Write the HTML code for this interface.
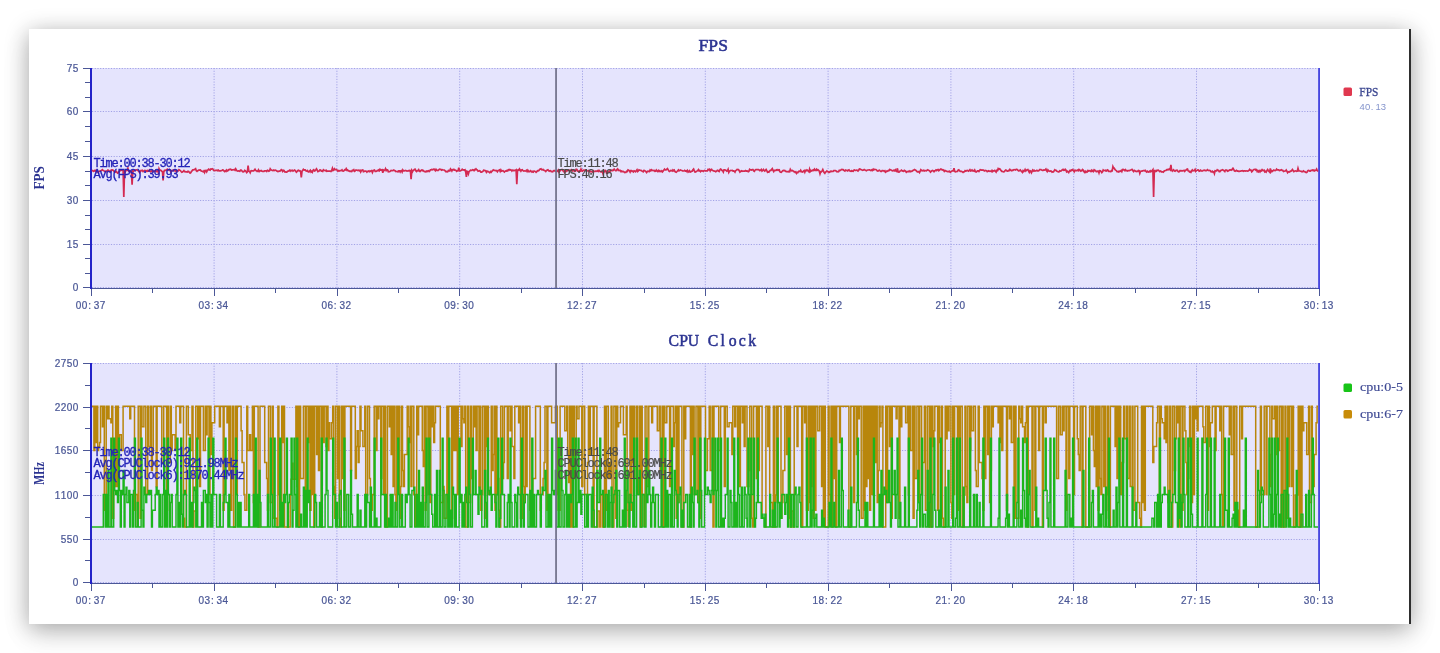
<!DOCTYPE html><html><head><meta charset="utf-8"><title>FPS / CPU Clock</title><style>
html,body{margin:0;padding:0;background:#fff;width:1440px;height:653px;overflow:hidden}
#panel{position:absolute;left:29px;top:29px;width:1382px;height:595px;background:#fff;box-shadow:0 4px 22px rgba(0,0,0,0.32),0 12px 30px rgba(0,0,0,0.07)}
#edge{position:absolute;left:1409px;top:29px;width:2px;height:595px;background:#2e2e2e}
svg{position:absolute;left:0;top:0}
.ax{font-family:"Liberation Sans",sans-serif;font-size:11.4px;fill:#4a5796;stroke:#4a5796;stroke-width:0.25}
.ttl{font-family:"Liberation Serif",serif;fill:#2b3391;stroke:#2b3391;stroke-width:0.55}
.ttlb{font-family:"Liberation Serif",serif;font-weight:bold;fill:#2b3391}
.ov{font-family:"Liberation Mono",monospace;font-size:12px;fill:#2323b8;stroke:#2323b8;stroke-width:0.3}
.ovg{font-family:"Liberation Mono",monospace;font-size:12px;fill:#4a4a4a;stroke:#4a4a4a;stroke-width:0.2}

</style></head><body><div id="panel"></div><div id="edge"></div>
<svg width="1440" height="653" viewBox="0 0 1440 653">
<rect x="92" y="68" width="1226" height="220" fill="#e5e4fd"/><line x1="92" y1="287.5" x2="1318" y2="287.5" stroke="#a3a3e6" stroke-width="1" stroke-dasharray="1.2 1.5"/><line x1="92" y1="244.5" x2="1318" y2="244.5" stroke="#a3a3e6" stroke-width="1" stroke-dasharray="1.2 1.5"/><line x1="92" y1="200.5" x2="1318" y2="200.5" stroke="#a3a3e6" stroke-width="1" stroke-dasharray="1.2 1.5"/><line x1="92" y1="156.5" x2="1318" y2="156.5" stroke="#a3a3e6" stroke-width="1" stroke-dasharray="1.2 1.5"/><line x1="92" y1="111.5" x2="1318" y2="111.5" stroke="#a3a3e6" stroke-width="1" stroke-dasharray="1.2 1.5"/><line x1="92" y1="68.5" x2="1318" y2="68.5" stroke="#a3a3e6" stroke-width="1" stroke-dasharray="1.2 1.5"/><line x1="214.10" y1="68" x2="214.10" y2="288" stroke="#a3a3e6" stroke-width="1" stroke-dasharray="1.2 1.5"/><line x1="336.90" y1="68" x2="336.90" y2="288" stroke="#a3a3e6" stroke-width="1" stroke-dasharray="1.2 1.5"/><line x1="459.70" y1="68" x2="459.70" y2="288" stroke="#a3a3e6" stroke-width="1" stroke-dasharray="1.2 1.5"/><line x1="582.50" y1="68" x2="582.50" y2="288" stroke="#a3a3e6" stroke-width="1" stroke-dasharray="1.2 1.5"/><line x1="705.30" y1="68" x2="705.30" y2="288" stroke="#a3a3e6" stroke-width="1" stroke-dasharray="1.2 1.5"/><line x1="828.10" y1="68" x2="828.10" y2="288" stroke="#a3a3e6" stroke-width="1" stroke-dasharray="1.2 1.5"/><line x1="950.90" y1="68" x2="950.90" y2="288" stroke="#a3a3e6" stroke-width="1" stroke-dasharray="1.2 1.5"/><line x1="1073.70" y1="68" x2="1073.70" y2="288" stroke="#a3a3e6" stroke-width="1" stroke-dasharray="1.2 1.5"/><line x1="1196.50" y1="68" x2="1196.50" y2="288" stroke="#a3a3e6" stroke-width="1" stroke-dasharray="1.2 1.5"/><line x1="90" y1="288.5" x2="1320" y2="288.5" stroke="#4b5797" stroke-width="1"/><line x1="83" y1="287.5" x2="90" y2="287.5" stroke="#4b5797" stroke-width="1"/><line x1="85" y1="273.5" x2="90" y2="273.5" stroke="#4b5797" stroke-width="1"/><line x1="85" y1="258.5" x2="90" y2="258.5" stroke="#4b5797" stroke-width="1"/><text transform="scale(0.880 1)" x="85.80" y="291.40" text-anchor="middle" class="ax">0</text><line x1="83" y1="244.5" x2="90" y2="244.5" stroke="#4b5797" stroke-width="1"/><line x1="85" y1="229.5" x2="90" y2="229.5" stroke="#4b5797" stroke-width="1"/><line x1="85" y1="215.5" x2="90" y2="215.5" stroke="#4b5797" stroke-width="1"/><text transform="scale(0.880 1)" x="78.98 85.80" y="248.40" text-anchor="middle" class="ax">15</text><line x1="83" y1="200.5" x2="90" y2="200.5" stroke="#4b5797" stroke-width="1"/><line x1="85" y1="185.5" x2="90" y2="185.5" stroke="#4b5797" stroke-width="1"/><line x1="85" y1="171.5" x2="90" y2="171.5" stroke="#4b5797" stroke-width="1"/><text transform="scale(0.880 1)" x="78.98 85.80" y="204.40" text-anchor="middle" class="ax">30</text><line x1="83" y1="156.5" x2="90" y2="156.5" stroke="#4b5797" stroke-width="1"/><line x1="85" y1="141.5" x2="90" y2="141.5" stroke="#4b5797" stroke-width="1"/><line x1="85" y1="126.5" x2="90" y2="126.5" stroke="#4b5797" stroke-width="1"/><text transform="scale(0.880 1)" x="78.98 85.80" y="160.40" text-anchor="middle" class="ax">45</text><line x1="83" y1="111.5" x2="90" y2="111.5" stroke="#4b5797" stroke-width="1"/><line x1="85" y1="97.5" x2="90" y2="97.5" stroke="#4b5797" stroke-width="1"/><line x1="85" y1="82.5" x2="90" y2="82.5" stroke="#4b5797" stroke-width="1"/><text transform="scale(0.880 1)" x="78.98 85.80" y="115.40" text-anchor="middle" class="ax">60</text><line x1="83" y1="68.5" x2="90" y2="68.5" stroke="#4b5797" stroke-width="1"/><text transform="scale(0.880 1)" x="78.98 85.80" y="72.40" text-anchor="middle" class="ax">75</text><line x1="91.5" y1="289" x2="91.5" y2="296" stroke="#4b5797" stroke-width="1"/><line x1="152.5" y1="289" x2="152.5" y2="293" stroke="#4b5797" stroke-width="1"/><text transform="scale(0.880 1)" x="89.32 96.14 101.82 109.77 116.59" y="308.90" text-anchor="middle" class="ax">00:37</text><line x1="214.5" y1="289" x2="214.5" y2="296" stroke="#4b5797" stroke-width="1"/><line x1="275.5" y1="289" x2="275.5" y2="293" stroke="#4b5797" stroke-width="1"/><text transform="scale(0.880 1)" x="228.86 235.68 241.36 249.32 256.14" y="308.90" text-anchor="middle" class="ax">03:34</text><line x1="337.5" y1="289" x2="337.5" y2="296" stroke="#4b5797" stroke-width="1"/><line x1="398.5" y1="289" x2="398.5" y2="293" stroke="#4b5797" stroke-width="1"/><text transform="scale(0.880 1)" x="368.41 375.23 380.91 388.86 395.68" y="308.90" text-anchor="middle" class="ax">06:32</text><line x1="459.5" y1="289" x2="459.5" y2="296" stroke="#4b5797" stroke-width="1"/><line x1="521.5" y1="289" x2="521.5" y2="293" stroke="#4b5797" stroke-width="1"/><text transform="scale(0.880 1)" x="507.95 514.77 520.45 528.41 535.23" y="308.90" text-anchor="middle" class="ax">09:30</text><line x1="582.5" y1="289" x2="582.5" y2="296" stroke="#4b5797" stroke-width="1"/><line x1="644.5" y1="289" x2="644.5" y2="293" stroke="#4b5797" stroke-width="1"/><text transform="scale(0.880 1)" x="647.50 654.32 660.00 667.95 674.77" y="308.90" text-anchor="middle" class="ax">12:27</text><line x1="705.5" y1="289" x2="705.5" y2="296" stroke="#4b5797" stroke-width="1"/><line x1="766.5" y1="289" x2="766.5" y2="293" stroke="#4b5797" stroke-width="1"/><text transform="scale(0.880 1)" x="787.05 793.86 799.55 807.50 814.32" y="308.90" text-anchor="middle" class="ax">15:25</text><line x1="828.5" y1="289" x2="828.5" y2="296" stroke="#4b5797" stroke-width="1"/><line x1="889.5" y1="289" x2="889.5" y2="293" stroke="#4b5797" stroke-width="1"/><text transform="scale(0.880 1)" x="926.59 933.41 939.09 947.05 953.86" y="308.90" text-anchor="middle" class="ax">18:22</text><line x1="951.5" y1="289" x2="951.5" y2="296" stroke="#4b5797" stroke-width="1"/><line x1="1012.5" y1="289" x2="1012.5" y2="293" stroke="#4b5797" stroke-width="1"/><text transform="scale(0.880 1)" x="1066.14 1072.95 1078.64 1086.59 1093.41" y="308.90" text-anchor="middle" class="ax">21:20</text><line x1="1073.5" y1="289" x2="1073.5" y2="296" stroke="#4b5797" stroke-width="1"/><line x1="1135.5" y1="289" x2="1135.5" y2="293" stroke="#4b5797" stroke-width="1"/><text transform="scale(0.880 1)" x="1205.68 1212.50 1218.18 1226.14 1232.95" y="308.90" text-anchor="middle" class="ax">24:18</text><line x1="1196.5" y1="289" x2="1196.5" y2="296" stroke="#4b5797" stroke-width="1"/><line x1="1258.5" y1="289" x2="1258.5" y2="293" stroke="#4b5797" stroke-width="1"/><text transform="scale(0.880 1)" x="1345.23 1352.05 1357.73 1365.68 1372.50" y="308.90" text-anchor="middle" class="ax">27:15</text><line x1="1319.5" y1="289" x2="1319.5" y2="296" stroke="#4b5797" stroke-width="1"/><text transform="scale(0.880 1)" x="1484.77 1491.59 1497.27 1505.23 1512.05" y="308.90" text-anchor="middle" class="ax">30:13</text><rect x="90" y="68" width="2" height="221" fill="#2323c8"/><rect x="1318.2" y="68" width="1.7" height="221" fill="#3434dc"/>
<polyline points="92.0,170.9 92.7,170.5 93.4,171.3 94.1,171.2 94.8,170.3 95.5,170.4 96.1,171.6 96.8,170.7 97.5,171.8 98.2,172.5 98.9,171.5 99.6,171.2 100.3,170.8 101.0,170.6 101.7,170.3 102.4,169.7 103.1,170.4 103.7,170.7 104.4,171.0 105.1,171.5 105.8,171.7 106.5,171.1 107.2,170.9 107.9,170.0 108.6,170.4 109.3,171.1 110.0,171.9 110.6,170.9 111.3,169.9 112.0,170.1 112.7,170.0 113.4,170.7 114.1,171.4 114.8,171.5 115.5,172.1 116.2,171.3 116.9,172.3 117.6,173.2 118.2,172.9 118.9,171.3 119.6,170.9 120.3,170.6 121.0,170.3 121.7,170.2 122.4,169.8 123.1,169.9 123.8,197.1 124.5,171.4 125.2,172.0 125.8,170.4 126.5,170.4 127.2,170.1 127.9,168.3 128.6,171.1 129.3,171.1 130.0,170.7 130.7,171.3 131.4,171.9 132.1,184.8 132.8,170.9 133.4,171.4 134.1,170.7 134.8,170.0 135.5,170.4 136.2,169.9 136.9,169.8 137.6,170.4 138.3,170.8 139.0,171.8 139.7,172.6 140.3,171.2 141.0,170.5 141.7,170.8 142.4,170.4 143.1,171.6 143.8,171.1 144.5,170.4 145.2,170.7 145.9,170.7 146.6,171.3 147.3,170.6 147.9,171.3 148.6,171.0 149.3,170.1 150.0,171.3 150.7,171.8 151.4,171.3 152.1,170.4 152.8,171.6 153.5,171.2 154.2,171.4 154.9,171.1 155.5,170.6 156.2,171.6 156.9,171.0 157.6,170.8 158.3,172.6 159.0,168.7 159.7,170.4 160.4,170.1 161.1,170.4 161.8,171.3 162.5,171.6 163.1,180.4 163.8,171.8 164.5,170.4 165.2,170.3 165.9,170.3 166.6,169.8 167.3,169.3 168.0,170.4 168.7,169.9 169.4,169.4 170.0,170.2 170.7,171.7 171.4,170.7 172.1,170.8 172.8,170.2 173.5,170.5 174.2,170.0 174.9,170.8 175.6,170.2 176.3,171.7 177.0,170.6 177.6,170.8 178.3,170.8 179.0,169.7 179.7,170.1 180.4,170.6 181.1,171.5 181.8,172.2 182.5,172.0 183.2,171.4 183.9,170.6 184.6,171.7 185.2,171.7 185.9,171.9 186.6,171.9 187.3,172.1 188.0,171.3 188.7,171.5 189.4,172.4 190.1,173.1 190.8,172.6 191.5,171.3 192.2,170.6 192.8,169.8 193.5,169.8 194.2,169.7 194.9,169.3 195.6,168.7 196.3,170.8 197.0,171.4 197.7,170.7 198.4,170.4 199.1,170.0 199.7,170.1 200.4,169.9 201.1,171.0 201.8,171.1 202.5,171.5 203.2,171.7 203.9,170.9 204.6,172.5 205.3,170.7 206.0,170.4 206.7,171.8 207.3,170.7 208.0,169.9 208.7,169.1 209.4,169.7 210.1,170.1 210.8,169.0 211.5,169.2 212.2,168.8 212.9,169.1 213.6,170.4 214.3,170.4 214.9,170.6 215.6,170.4 216.3,170.3 217.0,170.2 217.7,170.7 218.4,170.2 219.1,170.9 219.8,170.8 220.5,170.8 221.2,170.7 221.9,170.5 222.5,169.9 223.2,170.0 223.9,171.0 224.6,171.5 225.3,170.7 226.0,171.4 226.7,170.1 227.4,170.9 228.1,170.5 228.8,169.7 229.5,169.7 230.1,169.1 230.8,169.3 231.5,170.0 232.2,169.9 232.9,169.9 233.6,169.7 234.3,169.4 235.0,170.2 235.7,168.8 236.4,170.2 237.0,170.7 237.7,171.1 238.4,170.8 239.1,171.1 239.8,171.3 240.5,170.2 241.2,170.2 241.9,170.8 242.6,171.7 243.3,171.9 244.0,171.6 244.6,170.4 245.3,170.7 246.0,171.5 246.7,172.6 247.4,171.8 248.1,165.5 248.8,171.2 249.5,171.4 250.2,172.7 250.9,170.9 251.6,170.6 252.2,170.9 252.9,170.8 253.6,170.8 254.3,170.3 255.0,169.3 255.7,170.5 256.4,170.7 257.1,171.4 257.8,171.0 258.5,169.9 259.2,171.5 259.8,170.9 260.5,170.9 261.2,170.6 261.9,171.2 262.6,171.3 263.3,171.3 264.0,171.3 264.7,170.8 265.4,170.8 266.1,170.9 266.7,171.4 267.4,170.3 268.1,170.6 268.8,171.2 269.5,170.9 270.2,168.8 270.9,169.8 271.6,170.0 272.3,170.5 273.0,170.6 273.7,170.1 274.3,170.5 275.0,170.3 275.7,170.1 276.4,170.8 277.1,171.1 277.8,171.5 278.5,171.4 279.2,170.9 279.9,171.2 280.6,170.5 281.3,169.6 281.9,170.0 282.6,171.4 283.3,170.3 284.0,170.5 284.7,171.9 285.4,171.9 286.1,172.2 286.8,172.1 287.5,171.3 288.2,171.2 288.9,170.9 289.5,170.3 290.2,171.1 290.9,170.3 291.6,170.8 292.3,170.3 293.0,171.1 293.7,170.6 294.4,170.1 295.1,170.5 295.8,171.5 296.4,172.2 297.1,171.4 297.8,170.5 298.5,170.3 299.2,171.1 299.9,170.8 300.6,171.2 301.3,177.5 302.0,171.3 302.7,170.5 303.4,169.3 304.0,169.8 304.7,170.1 305.4,169.9 306.1,170.9 306.8,171.1 307.5,170.6 308.2,171.9 308.9,172.1 309.6,170.9 310.3,170.2 311.0,172.0 311.6,171.4 312.3,172.3 313.0,170.3 313.7,169.8 314.4,171.0 315.1,170.7 315.8,169.8 316.5,168.8 317.2,170.1 317.9,171.6 318.6,171.2 319.2,171.1 319.9,169.9 320.6,170.1 321.3,171.1 322.0,171.1 322.7,171.4 323.4,169.7 324.1,170.2 324.8,170.5 325.5,170.7 326.1,170.2 326.8,171.3 327.5,171.2 328.2,171.1 328.9,171.1 329.6,171.1 330.3,171.2 331.0,171.5 331.7,170.6 332.4,168.3 333.1,170.5 333.7,170.1 334.4,168.8 335.1,169.6 335.8,169.7 336.5,169.5 337.2,170.3 337.9,171.3 338.6,170.6 339.3,171.0 340.0,170.6 340.7,170.5 341.3,170.6 342.0,169.9 342.7,171.0 343.4,171.1 344.1,170.6 344.8,169.7 345.5,170.0 346.2,168.7 346.9,170.3 347.6,169.9 348.3,170.8 348.9,170.8 349.6,171.3 350.3,171.2 351.0,171.4 351.7,171.6 352.4,170.3 353.1,170.5 353.8,169.7 354.5,171.3 355.2,170.8 355.8,170.0 356.5,170.0 357.2,170.2 357.9,170.5 358.6,170.2 359.3,170.7 360.0,170.2 360.7,171.9 361.4,170.6 362.1,170.1 362.8,170.0 363.4,171.7 364.1,171.4 364.8,171.1 365.5,171.1 366.2,171.3 366.9,172.2 367.6,171.3 368.3,171.3 369.0,170.9 369.7,171.6 370.4,171.2 371.0,170.8 371.7,170.6 372.4,172.4 373.1,170.8 373.8,170.3 374.5,170.0 375.2,171.4 375.9,171.4 376.6,171.3 377.3,170.5 378.0,170.7 378.6,170.0 379.3,170.7 380.0,169.3 380.7,170.0 381.4,169.9 382.1,169.7 382.8,172.7 383.5,170.1 384.2,170.5 384.9,170.0 385.5,168.7 386.2,170.6 386.9,169.7 387.6,169.9 388.3,171.8 389.0,171.7 389.7,171.6 390.4,171.1 391.1,170.5 391.8,170.6 392.5,170.6 393.1,170.5 393.8,170.1 394.5,170.6 395.2,170.8 395.9,171.6 396.6,171.5 397.3,171.4 398.0,171.8 398.7,170.8 399.4,170.9 400.1,172.0 400.7,170.8 401.4,170.5 402.1,172.0 402.8,169.9 403.5,170.9 404.2,170.8 404.9,170.7 405.6,170.5 406.3,170.8 407.0,171.1 407.7,171.0 408.3,170.6 409.0,170.8 409.7,170.4 410.4,170.7 411.1,179.3 411.8,170.5 412.5,171.7 413.2,170.4 413.9,170.0 414.6,169.4 415.2,169.3 415.9,171.0 416.6,171.5 417.3,170.7 418.0,170.7 418.7,169.7 419.4,171.2 420.1,171.4 420.8,170.5 421.5,170.0 422.2,170.6 422.8,170.1 423.5,170.8 424.2,171.4 424.9,171.6 425.6,171.8 426.3,171.2 427.0,171.7 427.7,171.0 428.4,170.7 429.1,171.5 429.8,170.9 430.4,169.9 431.1,169.8 431.8,169.5 432.5,169.8 433.2,169.4 433.9,169.1 434.6,169.7 435.3,170.6 436.0,169.3 436.7,170.3 437.4,170.3 438.0,170.6 438.7,170.0 439.4,169.2 440.1,169.4 440.8,169.4 441.5,170.1 442.2,169.7 442.9,170.0 443.6,170.0 444.3,170.0 444.9,170.6 445.6,171.6 446.3,171.4 447.0,171.9 447.7,171.7 448.4,170.4 449.1,170.6 449.8,170.9 450.5,168.9 451.2,169.7 451.9,170.9 452.5,169.7 453.2,169.8 453.9,169.4 454.6,170.1 455.3,170.2 456.0,170.5 456.7,171.3 457.4,170.8 458.1,170.6 458.8,167.6 459.5,171.0 460.1,171.0 460.8,170.5 461.5,170.2 462.2,169.3 462.9,169.9 463.6,169.9 464.3,170.2 465.0,169.8 465.7,171.8 466.4,176.9 467.1,171.3 467.7,171.8 468.4,173.9 469.1,171.5 469.8,170.9 470.5,170.1 471.2,170.3 471.9,170.3 472.6,169.7 473.3,170.0 474.0,170.7 474.7,169.5 475.3,169.7 476.0,168.9 476.7,169.7 477.4,170.2 478.1,171.2 478.8,171.0 479.5,170.7 480.2,171.2 480.9,172.2 481.6,172.2 482.2,171.8 482.9,171.4 483.6,170.2 484.3,170.4 485.0,170.6 485.7,170.8 486.4,172.3 487.1,171.2 487.8,171.4 488.5,171.8 489.2,172.1 489.8,172.7 490.5,171.6 491.2,172.2 491.9,171.2 492.6,170.8 493.3,169.9 494.0,170.2 494.7,170.4 495.4,170.7 496.1,170.5 496.8,170.9 497.4,171.7 498.1,170.5 498.8,170.3 499.5,169.9 500.2,171.5 500.9,169.9 501.6,171.1 502.3,170.8 503.0,170.7 503.7,171.5 504.4,172.1 505.0,171.3 505.7,170.9 506.4,171.1 507.1,170.4 507.8,170.8 508.5,169.8 509.2,169.5 509.9,170.2 510.6,169.8 511.3,170.1 511.9,171.0 512.6,170.1 513.3,170.2 514.0,170.7 514.7,170.3 515.4,170.5 516.1,169.9 516.8,184.2 517.5,170.2 518.2,169.8 518.9,170.3 519.5,169.0 520.2,170.0 520.9,171.1 521.6,170.0 522.3,169.8 523.0,170.7 523.7,171.1 524.4,170.8 525.1,171.0 525.8,170.7 526.5,170.3 527.1,171.5 527.8,170.2 528.5,171.5 529.2,171.4 529.9,171.5 530.6,170.7 531.3,171.3 532.0,172.0 532.7,171.3 533.4,171.9 534.1,171.0 534.7,171.2 535.4,171.4 536.1,172.3 536.8,171.6 537.5,170.7 538.2,170.9 538.9,170.5 539.6,169.3 540.3,169.0 541.0,168.7 541.6,169.7 542.3,169.9 543.0,169.4 543.7,170.2 544.4,170.3 545.1,170.8 545.8,171.5 546.5,170.6 547.2,170.0 547.9,169.8 548.6,170.6 549.2,171.1 549.9,170.7 550.6,170.6 551.3,171.7 552.0,171.7 552.7,171.8 553.4,170.8 554.1,170.4 554.8,170.9 555.5,171.2 556.2,171.5 556.8,171.6 557.5,170.9 558.2,170.0 558.9,172.1 559.6,171.4 560.3,170.5 561.0,169.7 561.7,169.5 562.4,169.6 563.1,171.0 563.8,171.0 564.4,172.2 565.1,170.7 565.8,171.6 566.5,170.6 567.2,170.8 567.9,170.6 568.6,170.0 569.3,170.3 570.0,170.8 570.7,170.4 571.3,169.8 572.0,170.6 572.7,171.0 573.4,170.6 574.1,170.4 574.8,171.4 575.5,170.9 576.2,169.2 576.9,169.4 577.6,171.1 578.3,171.3 578.9,171.2 579.6,170.7 580.3,171.1 581.0,169.1 581.7,170.9 582.4,171.2 583.1,170.3 583.8,170.2 584.5,170.7 585.2,170.0 585.9,169.9 586.5,170.9 587.2,171.0 587.9,170.8 588.6,170.6 589.3,171.8 590.0,171.9 590.7,171.3 591.4,171.5 592.1,171.9 592.8,172.0 593.5,170.8 594.1,171.3 594.8,171.5 595.5,171.2 596.2,171.1 596.9,171.3 597.6,170.7 598.3,171.4 599.0,170.3 599.7,171.1 600.4,171.8 601.0,171.9 601.7,171.7 602.4,172.0 603.1,174.0 603.8,171.3 604.5,171.6 605.2,170.5 605.9,170.9 606.6,173.2 607.3,173.2 608.0,172.0 608.6,171.7 609.3,171.1 610.0,171.6 610.7,170.3 611.4,170.6 612.1,170.1 612.8,170.6 613.5,170.1 614.2,169.1 614.9,170.0 615.6,170.7 616.2,170.7 616.9,169.5 617.6,168.9 618.3,170.4 619.0,170.1 619.7,170.6 620.4,170.5 621.1,171.7 621.8,171.1 622.5,171.6 623.2,171.4 623.8,171.6 624.5,172.5 625.2,172.3 625.9,172.3 626.6,171.2 627.3,171.5 628.0,169.9 628.7,170.2 629.4,170.8 630.1,172.0 630.7,170.6 631.4,170.6 632.1,171.5 632.8,171.1 633.5,171.9 634.2,170.9 634.9,171.2 635.6,171.8 636.3,170.7 637.0,169.8 637.7,171.6 638.3,171.0 639.0,169.9 639.7,170.3 640.4,170.4 641.1,170.3 641.8,171.1 642.5,171.3 643.2,171.8 643.9,170.5 644.6,170.6 645.3,171.2 645.9,171.7 646.6,172.5 647.3,171.5 648.0,171.1 648.7,171.4 649.4,171.6 650.1,170.0 650.8,170.7 651.5,169.8 652.2,170.5 652.9,170.3 653.5,170.6 654.2,170.5 654.9,171.3 655.6,171.2 656.3,170.0 657.0,171.0 657.7,171.5 658.4,170.5 659.1,171.4 659.8,170.7 660.4,171.5 661.1,171.6 661.8,170.8 662.5,171.8 663.2,171.0 663.9,170.1 664.6,169.2 665.3,170.0 666.0,170.0 666.7,169.3 667.4,168.6 668.0,169.4 668.7,170.8 669.4,171.4 670.1,171.1 670.8,170.4 671.5,170.6 672.2,171.1 672.9,169.9 673.6,170.7 674.3,170.1 675.0,171.6 675.6,171.9 676.3,172.2 677.0,171.5 677.7,170.7 678.4,169.9 679.1,170.9 679.8,170.4 680.5,170.0 681.2,170.3 681.9,170.5 682.6,171.0 683.2,171.0 683.9,170.9 684.6,170.4 685.3,171.1 686.0,170.8 686.7,171.5 687.4,170.5 688.1,172.1 688.8,171.4 689.5,170.7 690.1,172.0 690.8,171.9 691.5,171.2 692.2,171.1 692.9,169.8 693.6,169.1 694.3,170.9 695.0,172.1 695.7,171.9 696.4,171.3 697.1,171.0 697.7,170.7 698.4,169.6 699.1,170.9 699.8,170.6 700.5,171.7 701.2,170.9 701.9,170.7 702.6,171.0 703.3,171.4 704.0,170.7 704.7,170.4 705.3,170.9 706.0,170.8 706.7,170.9 707.4,170.9 708.1,169.4 708.8,169.7 709.5,169.3 710.2,171.0 710.9,169.7 711.6,169.3 712.3,170.5 712.9,170.5 713.6,170.9 714.3,171.1 715.0,171.1 715.7,171.8 716.4,171.4 717.1,170.5 717.8,170.3 718.5,171.0 719.2,171.5 719.9,169.9 720.5,169.0 721.2,169.3 721.9,170.5 722.6,170.6 723.3,172.0 724.0,169.9 724.7,169.9 725.4,170.0 726.1,170.4 726.8,171.1 727.4,170.8 728.1,169.3 728.8,172.4 729.5,171.1 730.2,170.7 730.9,170.4 731.6,170.5 732.3,170.4 733.0,171.1 733.7,170.9 734.4,171.2 735.0,172.1 735.7,170.6 736.4,170.2 737.1,169.4 737.8,169.6 738.5,169.6 739.2,170.7 739.9,172.0 740.6,171.3 741.3,170.8 742.0,171.3 742.6,171.1 743.3,171.0 744.0,171.2 744.7,171.1 745.4,170.6 746.1,171.1 746.8,170.9 747.5,171.1 748.2,171.7 748.9,171.3 749.6,169.4 750.2,169.8 750.9,169.9 751.6,170.0 752.3,169.5 753.0,169.5 753.7,170.8 754.4,171.3 755.1,170.0 755.8,169.6 756.5,169.6 757.1,169.6 757.8,169.7 758.5,169.7 759.2,170.0 759.9,170.6 760.6,170.1 761.3,169.4 762.0,171.1 762.7,170.4 763.4,169.5 764.1,170.5 764.7,171.0 765.4,170.3 766.1,169.5 766.8,170.7 767.5,172.3 768.2,171.8 768.9,172.2 769.6,171.1 770.3,170.3 771.0,170.3 771.7,169.4 772.3,168.7 773.0,170.4 773.7,171.5 774.4,170.3 775.1,170.3 775.8,170.6 776.5,169.9 777.2,170.3 777.9,169.7 778.6,170.3 779.3,170.0 779.9,171.7 780.6,172.2 781.3,172.3 782.0,171.5 782.7,170.8 783.4,170.4 784.1,170.6 784.8,170.4 785.5,171.2 786.2,171.5 786.8,171.4 787.5,171.8 788.2,171.9 788.9,171.3 789.6,171.7 790.3,169.3 791.0,170.5 791.7,170.8 792.4,170.5 793.1,170.9 793.8,171.7 794.4,171.6 795.1,172.4 795.8,171.8 796.5,173.3 797.2,172.4 797.9,172.5 798.6,171.3 799.3,171.4 800.0,171.5 800.7,170.3 801.4,171.6 802.0,171.9 802.7,172.0 803.4,171.0 804.1,170.5 804.8,172.2 805.5,170.4 806.2,170.7 806.9,169.9 807.6,170.5 808.3,171.1 809.0,171.8 809.6,169.2 810.3,171.4 811.0,170.4 811.7,170.9 812.4,170.5 813.1,169.8 813.8,170.4 814.5,169.2 815.2,170.2 815.9,170.5 816.5,169.3 817.2,170.3 817.9,169.7 818.6,170.3 819.3,171.2 820.0,173.8 820.7,171.7 821.4,171.8 822.1,170.9 822.8,169.6 823.5,171.3 824.1,172.6 824.8,173.3 825.5,172.0 826.2,171.8 826.9,171.0 827.6,171.6 828.3,171.7 829.0,172.4 829.7,172.0 830.4,171.3 831.1,171.5 831.7,171.2 832.4,171.5 833.1,171.5 833.8,170.6 834.5,170.5 835.2,170.6 835.9,170.8 836.6,171.6 837.3,171.7 838.0,171.8 838.7,171.5 839.3,170.3 840.0,170.6 840.7,170.1 841.4,169.5 842.1,169.7 842.8,169.5 843.5,170.0 844.2,170.6 844.9,171.1 845.6,170.1 846.2,170.4 846.9,170.3 847.6,170.9 848.3,170.3 849.0,169.9 849.7,170.8 850.4,171.2 851.1,171.3 851.8,170.7 852.5,171.2 853.2,171.3 853.8,170.2 854.5,170.0 855.2,170.5 855.9,170.5 856.6,170.1 857.3,170.3 858.0,171.0 858.7,170.2 859.4,168.9 860.1,169.1 860.8,169.4 861.4,169.7 862.1,170.1 862.8,170.4 863.5,170.1 864.2,169.5 864.9,169.9 865.6,170.4 866.3,170.8 867.0,170.3 867.7,170.0 868.4,170.0 869.0,169.9 869.7,169.9 870.4,170.4 871.1,170.5 871.8,169.9 872.5,170.4 873.2,169.2 873.9,169.9 874.6,169.4 875.3,169.5 875.9,169.5 876.6,170.0 877.3,171.0 878.0,171.1 878.7,170.4 879.4,170.2 880.1,170.9 880.8,171.4 881.5,171.4 882.2,170.6 882.9,170.5 883.5,170.7 884.2,171.3 884.9,170.8 885.6,172.1 886.3,171.5 887.0,171.0 887.7,171.3 888.4,170.5 889.1,170.6 889.8,169.5 890.5,169.9 891.1,170.0 891.8,170.4 892.5,170.8 893.2,170.6 893.9,170.2 894.6,170.8 895.3,169.9 896.0,171.2 896.7,171.5 897.4,168.3 898.1,171.7 898.7,172.1 899.4,172.0 900.1,170.9 900.8,170.7 901.5,170.2 902.2,170.8 902.9,171.1 903.6,171.3 904.3,170.4 905.0,170.8 905.6,171.2 906.3,172.2 907.0,171.7 907.7,171.7 908.4,171.2 909.1,171.7 909.8,170.9 910.5,171.6 911.2,171.1 911.9,171.4 912.6,170.9 913.2,170.3 913.9,169.9 914.6,169.5 915.3,170.1 916.0,170.5 916.7,171.3 917.4,171.8 918.1,171.8 918.8,171.6 919.5,172.6 920.2,171.1 920.8,169.7 921.5,170.4 922.2,170.6 922.9,170.8 923.6,170.3 924.3,170.9 925.0,170.5 925.7,170.7 926.4,170.9 927.1,170.1 927.8,169.7 928.4,170.3 929.1,170.5 929.8,171.1 930.5,172.1 931.2,171.4 931.9,170.7 932.6,170.4 933.3,170.9 934.0,171.7 934.7,170.7 935.3,170.6 936.0,169.9 936.7,170.5 937.4,169.8 938.1,169.6 938.8,170.8 939.5,170.2 940.2,169.5 940.9,169.0 941.6,169.5 942.3,170.0 942.9,169.7 943.6,170.2 944.3,171.4 945.0,170.6 945.7,170.9 946.4,171.1 947.1,171.4 947.8,171.6 948.5,171.7 949.2,171.2 949.9,172.0 950.5,172.2 951.2,171.4 951.9,171.0 952.6,170.8 953.3,170.8 954.0,168.3 954.7,171.5 955.4,171.9 956.1,171.6 956.8,171.5 957.5,171.4 958.1,170.1 958.8,169.8 959.5,170.7 960.2,171.4 960.9,171.3 961.6,171.4 962.3,171.9 963.0,172.4 963.7,171.8 964.4,171.7 965.1,170.7 965.7,171.0 966.4,170.9 967.1,170.4 967.8,170.6 968.5,171.1 969.2,170.6 969.9,169.8 970.6,171.0 971.3,170.7 972.0,170.0 972.6,170.8 973.3,170.7 974.0,171.1 974.7,170.1 975.4,171.7 976.1,172.0 976.8,171.5 977.5,170.8 978.2,170.9 978.9,171.5 979.6,170.5 980.2,169.7 980.9,169.9 981.6,170.1 982.3,170.1 983.0,170.0 983.7,170.4 984.4,170.9 985.1,170.4 985.8,170.6 986.5,170.8 987.2,171.6 987.8,171.3 988.5,170.8 989.2,171.3 989.9,171.2 990.6,171.1 991.3,171.6 992.0,170.4 992.7,171.6 993.4,170.8 994.1,170.8 994.8,170.4 995.4,171.2 996.1,172.1 996.8,170.4 997.5,170.6 998.2,168.6 998.9,169.3 999.6,168.8 1000.3,169.4 1001.0,170.6 1001.7,171.4 1002.3,171.3 1003.0,171.7 1003.7,171.9 1004.4,171.5 1005.1,170.6 1005.8,170.0 1006.5,170.4 1007.2,171.2 1007.9,171.2 1008.6,170.5 1009.3,170.6 1009.9,169.4 1010.6,170.1 1011.3,170.7 1012.0,170.2 1012.7,170.5 1013.4,170.0 1014.1,169.6 1014.8,169.8 1015.5,170.0 1016.2,169.4 1016.9,169.4 1017.5,169.9 1018.2,170.6 1018.9,171.0 1019.6,170.4 1020.3,169.9 1021.0,171.0 1021.7,171.5 1022.4,172.4 1023.1,170.7 1023.8,171.5 1024.5,170.8 1025.1,169.5 1025.8,171.0 1026.5,170.2 1027.2,169.8 1027.9,169.5 1028.6,171.0 1029.3,172.3 1030.0,170.8 1030.7,171.2 1031.4,172.7 1032.0,171.5 1032.7,170.1 1033.4,171.0 1034.1,170.2 1034.8,171.0 1035.5,170.9 1036.2,170.7 1036.9,170.3 1037.6,170.9 1038.3,170.8 1039.0,170.6 1039.6,169.6 1040.3,169.6 1041.0,169.6 1041.7,170.1 1042.4,170.5 1043.1,170.5 1043.8,169.9 1044.5,170.2 1045.2,169.9 1045.9,169.1 1046.6,170.7 1047.2,171.5 1047.9,169.9 1048.6,170.8 1049.3,171.1 1050.0,171.4 1050.7,170.9 1051.4,171.2 1052.1,172.2 1052.8,171.8 1053.5,171.9 1054.2,170.6 1054.8,169.8 1055.5,170.4 1056.2,170.3 1056.9,171.2 1057.6,171.5 1058.3,171.8 1059.0,171.9 1059.7,170.8 1060.4,171.1 1061.1,171.0 1061.7,170.4 1062.4,169.8 1063.1,169.4 1063.8,170.4 1064.5,170.3 1065.2,169.4 1065.9,170.1 1066.6,171.8 1067.3,171.2 1068.0,171.8 1068.7,172.5 1069.3,171.3 1070.0,170.5 1070.7,171.0 1071.4,170.0 1072.1,170.2 1072.8,169.6 1073.5,170.6 1074.2,171.7 1074.9,170.3 1075.6,170.4 1076.3,170.7 1076.9,170.7 1077.6,170.1 1078.3,170.7 1079.0,169.4 1079.7,169.8 1080.4,171.0 1081.1,170.6 1081.8,170.8 1082.5,169.5 1083.2,170.0 1083.9,171.6 1084.5,172.3 1085.2,171.3 1085.9,172.3 1086.6,171.5 1087.3,171.9 1088.0,170.5 1088.7,171.0 1089.4,170.6 1090.1,170.9 1090.8,171.5 1091.4,170.3 1092.1,171.3 1092.8,170.6 1093.5,171.4 1094.2,169.9 1094.9,170.4 1095.6,170.7 1096.3,171.6 1097.0,171.7 1097.7,171.1 1098.4,171.1 1099.0,172.9 1099.7,170.6 1100.4,170.7 1101.1,171.5 1101.8,172.6 1102.5,171.8 1103.2,170.0 1103.9,170.6 1104.6,170.5 1105.3,170.2 1106.0,171.1 1106.6,171.0 1107.3,169.9 1108.0,170.2 1108.7,171.4 1109.4,171.4 1110.1,171.3 1110.8,171.7 1111.5,170.7 1112.2,170.8 1112.9,166.6 1113.6,168.2 1114.2,168.2 1114.9,169.4 1115.6,170.2 1116.3,170.6 1117.0,171.6 1117.7,171.6 1118.4,172.0 1119.1,171.2 1119.8,171.6 1120.5,171.1 1121.1,170.5 1121.8,171.6 1122.5,169.6 1123.2,169.5 1123.9,169.9 1124.6,170.5 1125.3,169.7 1126.0,170.7 1126.7,170.4 1127.4,171.0 1128.1,170.7 1128.7,170.7 1129.4,170.6 1130.1,170.3 1130.8,170.0 1131.5,169.6 1132.2,169.5 1132.9,170.8 1133.6,171.6 1134.3,170.3 1135.0,170.7 1135.7,171.3 1136.3,171.6 1137.0,171.3 1137.7,171.3 1138.4,170.4 1139.1,170.6 1139.8,173.4 1140.5,171.4 1141.2,171.2 1141.9,171.1 1142.6,170.9 1143.3,170.5 1143.9,170.5 1144.6,170.8 1145.3,170.4 1146.0,171.4 1146.7,172.1 1147.4,171.3 1148.1,171.9 1148.8,172.0 1149.5,171.2 1150.2,171.8 1150.8,170.8 1151.5,171.4 1152.2,170.6 1152.9,169.7 1153.6,197.1 1154.3,170.7 1155.0,170.5 1155.7,171.4 1156.4,171.2 1157.1,170.2 1157.8,170.3 1158.4,170.2 1159.1,171.0 1159.8,171.6 1160.5,171.0 1161.2,171.4 1161.9,172.0 1162.6,171.8 1163.3,172.1 1164.0,171.2 1164.7,170.7 1165.4,170.5 1166.0,170.5 1166.7,169.7 1167.4,169.9 1168.1,169.3 1168.8,169.7 1169.5,169.0 1170.2,169.8 1170.9,164.9 1171.6,170.0 1172.3,171.1 1173.0,170.3 1173.6,169.8 1174.3,170.9 1175.0,171.3 1175.7,170.6 1176.4,170.4 1177.1,170.2 1177.8,171.1 1178.5,171.8 1179.2,171.7 1179.9,170.7 1180.5,170.7 1181.2,170.8 1181.9,170.7 1182.6,170.9 1183.3,170.7 1184.0,170.3 1184.7,171.4 1185.4,170.5 1186.1,170.1 1186.8,169.3 1187.5,169.1 1188.1,170.7 1188.8,170.9 1189.5,171.9 1190.2,171.6 1190.9,172.3 1191.6,171.0 1192.3,170.0 1193.0,170.8 1193.7,170.7 1194.4,170.5 1195.1,169.4 1195.7,171.2 1196.4,170.4 1197.1,170.2 1197.8,169.9 1198.5,170.0 1199.2,171.3 1199.9,171.1 1200.6,170.2 1201.3,170.7 1202.0,171.1 1202.7,170.7 1203.3,170.3 1204.0,170.4 1204.7,170.2 1205.4,170.6 1206.1,170.6 1206.8,170.4 1207.5,169.7 1208.2,170.3 1208.9,170.5 1209.6,170.3 1210.3,170.7 1210.9,171.7 1211.6,171.8 1212.3,171.2 1213.0,172.1 1213.7,171.8 1214.4,173.7 1215.1,170.8 1215.8,170.9 1216.5,170.9 1217.2,169.8 1217.8,170.3 1218.5,170.3 1219.2,171.6 1219.9,171.6 1220.6,170.5 1221.3,170.4 1222.0,170.0 1222.7,169.7 1223.4,170.4 1224.1,170.9 1224.8,171.5 1225.4,170.1 1226.1,170.2 1226.8,170.2 1227.5,171.3 1228.2,171.0 1228.9,170.5 1229.6,170.0 1230.3,170.1 1231.0,169.8 1231.7,170.2 1232.4,169.1 1233.0,168.3 1233.7,169.3 1234.4,170.9 1235.1,171.2 1235.8,170.8 1236.5,170.4 1237.2,171.1 1237.9,171.0 1238.6,171.3 1239.3,171.3 1240.0,171.1 1240.6,171.2 1241.3,170.8 1242.0,170.8 1242.7,170.6 1243.4,171.2 1244.1,170.9 1244.8,170.9 1245.5,171.1 1246.2,170.8 1246.9,171.0 1247.5,171.2 1248.2,170.9 1248.9,170.4 1249.6,169.4 1250.3,170.1 1251.0,170.1 1251.7,171.8 1252.4,171.1 1253.1,170.1 1253.8,169.5 1254.5,169.5 1255.1,169.2 1255.8,170.1 1256.5,169.7 1257.2,171.5 1257.9,170.6 1258.6,171.7 1259.3,170.8 1260.0,171.8 1260.7,170.6 1261.4,170.9 1262.1,169.7 1262.7,170.4 1263.4,170.5 1264.1,170.2 1264.8,171.9 1265.5,171.3 1266.2,172.0 1266.9,170.7 1267.6,169.6 1268.3,170.6 1269.0,171.4 1269.7,172.1 1270.3,168.3 1271.0,171.8 1271.7,170.8 1272.4,171.3 1273.1,170.6 1273.8,170.0 1274.5,170.5 1275.2,170.6 1275.9,170.2 1276.6,169.2 1277.2,169.9 1277.9,169.8 1278.6,169.8 1279.3,170.6 1280.0,170.4 1280.7,170.0 1281.4,169.8 1282.1,170.4 1282.8,170.4 1283.5,171.4 1284.2,171.2 1284.8,171.0 1285.5,170.9 1286.2,170.0 1286.9,171.2 1287.6,172.7 1288.3,172.0 1289.0,171.7 1289.7,172.0 1290.4,171.1 1291.1,171.1 1291.8,170.4 1292.4,169.5 1293.1,170.5 1293.8,171.6 1294.5,171.2 1295.2,170.8 1295.9,171.0 1296.6,171.3 1297.3,171.1 1298.0,168.3 1298.7,170.7 1299.4,170.9 1300.0,171.0 1300.7,171.2 1301.4,171.4 1302.1,171.8 1302.8,171.5 1303.5,170.9 1304.2,171.7 1304.9,171.6 1305.6,172.2 1306.3,172.6 1306.9,172.3 1307.6,171.1 1308.3,170.4 1309.0,170.6 1309.7,171.1 1310.4,171.1 1311.1,170.4 1311.8,170.3 1312.5,170.0 1313.2,170.7 1313.9,170.1 1314.5,170.9 1315.2,170.5 1315.9,170.2 1316.6,169.1 1317.3,170.6 1318.0,171.5" fill="none" stroke="#d42a52" stroke-width="1.7" stroke-linejoin="miter"/>
<rect x="555.2" y="68" width="1.7" height="220" fill="#6e6e88"/>
<text x="97.00 103.00 109.00 115.00 121.00 127.00 133.00 139.00 145.00 151.00 157.00 163.00 169.00 175.00 181.00 187.00" y="166.50" text-anchor="middle" class="ov">Time:00:38-30:12</text>
<text x="97.00 103.00 109.00 115.00 121.00 127.00 133.00 139.00 145.00 151.00 157.00 163.00 169.00 175.00" y="178.00" text-anchor="middle" class="ov">Avg(FPS):39.93</text>
<text x="561.00 567.00 573.00 579.00 585.00 591.00 597.00 603.00 609.00 615.00" y="166.50" text-anchor="middle" class="ovg">Time:11:48</text>
<text x="561.00 567.00 573.00 579.00 585.00 591.00 597.00 603.00 609.00" y="178.00" text-anchor="middle" class="ovg">FPS:40.16</text>
<text x="703.25 713.15 723.05" y="50.70" text-anchor="middle" class="ttl" font-size="17.5">FPS</text>
<text transform="translate(44.2 177.8) rotate(-90)" x="0" y="0" text-anchor="middle" class="ttlb" font-size="14.5" textLength="23.5" lengthAdjust="spacingAndGlyphs">FPS</text>
<rect x="1343.5" y="87.5" width="8.5" height="8.5" rx="1.5" fill="#e0384f"/>
<text x="1359.3" y="95.8" font-family="Liberation Serif,serif" font-size="13" fill="#3b4690" stroke="#3b4690" stroke-width="0.3" textLength="19" lengthAdjust="spacingAndGlyphs">FPS</text>
<text x="1362.25 1367.55 1372.05 1378.15 1383.45" y="110.40" text-anchor="middle" fill="#8494cc" font-size="9.5" font-family="Liberation Sans,sans-serif">40.13</text>
<rect x="92" y="363" width="1226" height="220" fill="#e5e4fd"/><line x1="92" y1="582.5" x2="1318" y2="582.5" stroke="#a3a3e6" stroke-width="1" stroke-dasharray="1.2 1.5"/><line x1="92" y1="539.5" x2="1318" y2="539.5" stroke="#a3a3e6" stroke-width="1" stroke-dasharray="1.2 1.5"/><line x1="92" y1="495.5" x2="1318" y2="495.5" stroke="#a3a3e6" stroke-width="1" stroke-dasharray="1.2 1.5"/><line x1="92" y1="450.5" x2="1318" y2="450.5" stroke="#a3a3e6" stroke-width="1" stroke-dasharray="1.2 1.5"/><line x1="92" y1="407.5" x2="1318" y2="407.5" stroke="#a3a3e6" stroke-width="1" stroke-dasharray="1.2 1.5"/><line x1="92" y1="363.5" x2="1318" y2="363.5" stroke="#a3a3e6" stroke-width="1" stroke-dasharray="1.2 1.5"/><line x1="214.10" y1="363" x2="214.10" y2="583" stroke="#a3a3e6" stroke-width="1" stroke-dasharray="1.2 1.5"/><line x1="336.90" y1="363" x2="336.90" y2="583" stroke="#a3a3e6" stroke-width="1" stroke-dasharray="1.2 1.5"/><line x1="459.70" y1="363" x2="459.70" y2="583" stroke="#a3a3e6" stroke-width="1" stroke-dasharray="1.2 1.5"/><line x1="582.50" y1="363" x2="582.50" y2="583" stroke="#a3a3e6" stroke-width="1" stroke-dasharray="1.2 1.5"/><line x1="705.30" y1="363" x2="705.30" y2="583" stroke="#a3a3e6" stroke-width="1" stroke-dasharray="1.2 1.5"/><line x1="828.10" y1="363" x2="828.10" y2="583" stroke="#a3a3e6" stroke-width="1" stroke-dasharray="1.2 1.5"/><line x1="950.90" y1="363" x2="950.90" y2="583" stroke="#a3a3e6" stroke-width="1" stroke-dasharray="1.2 1.5"/><line x1="1073.70" y1="363" x2="1073.70" y2="583" stroke="#a3a3e6" stroke-width="1" stroke-dasharray="1.2 1.5"/><line x1="1196.50" y1="363" x2="1196.50" y2="583" stroke="#a3a3e6" stroke-width="1" stroke-dasharray="1.2 1.5"/><line x1="90" y1="583.5" x2="1320" y2="583.5" stroke="#4b5797" stroke-width="1"/><line x1="83" y1="582.5" x2="90" y2="582.5" stroke="#4b5797" stroke-width="1"/><line x1="85" y1="560.5" x2="90" y2="560.5" stroke="#4b5797" stroke-width="1"/><text transform="scale(0.880 1)" x="85.80" y="586.40" text-anchor="middle" class="ax">0</text><line x1="83" y1="539.5" x2="90" y2="539.5" stroke="#4b5797" stroke-width="1"/><line x1="85" y1="517.5" x2="90" y2="517.5" stroke="#4b5797" stroke-width="1"/><text transform="scale(0.880 1)" x="72.16 78.98 85.80" y="543.40" text-anchor="middle" class="ax">550</text><line x1="83" y1="495.5" x2="90" y2="495.5" stroke="#4b5797" stroke-width="1"/><line x1="85" y1="472.5" x2="90" y2="472.5" stroke="#4b5797" stroke-width="1"/><text transform="scale(0.880 1)" x="65.34 72.16 78.98 85.80" y="499.40" text-anchor="middle" class="ax">1100</text><line x1="83" y1="450.5" x2="90" y2="450.5" stroke="#4b5797" stroke-width="1"/><line x1="85" y1="428.5" x2="90" y2="428.5" stroke="#4b5797" stroke-width="1"/><text transform="scale(0.880 1)" x="65.34 72.16 78.98 85.80" y="454.40" text-anchor="middle" class="ax">1650</text><line x1="83" y1="407.5" x2="90" y2="407.5" stroke="#4b5797" stroke-width="1"/><line x1="85" y1="385.5" x2="90" y2="385.5" stroke="#4b5797" stroke-width="1"/><text transform="scale(0.880 1)" x="65.34 72.16 78.98 85.80" y="411.40" text-anchor="middle" class="ax">2200</text><line x1="83" y1="363.5" x2="90" y2="363.5" stroke="#4b5797" stroke-width="1"/><text transform="scale(0.880 1)" x="65.34 72.16 78.98 85.80" y="367.40" text-anchor="middle" class="ax">2750</text><line x1="91.5" y1="584" x2="91.5" y2="591" stroke="#4b5797" stroke-width="1"/><line x1="152.5" y1="584" x2="152.5" y2="588" stroke="#4b5797" stroke-width="1"/><text transform="scale(0.880 1)" x="89.32 96.14 101.82 109.77 116.59" y="603.90" text-anchor="middle" class="ax">00:37</text><line x1="214.5" y1="584" x2="214.5" y2="591" stroke="#4b5797" stroke-width="1"/><line x1="275.5" y1="584" x2="275.5" y2="588" stroke="#4b5797" stroke-width="1"/><text transform="scale(0.880 1)" x="228.86 235.68 241.36 249.32 256.14" y="603.90" text-anchor="middle" class="ax">03:34</text><line x1="337.5" y1="584" x2="337.5" y2="591" stroke="#4b5797" stroke-width="1"/><line x1="398.5" y1="584" x2="398.5" y2="588" stroke="#4b5797" stroke-width="1"/><text transform="scale(0.880 1)" x="368.41 375.23 380.91 388.86 395.68" y="603.90" text-anchor="middle" class="ax">06:32</text><line x1="459.5" y1="584" x2="459.5" y2="591" stroke="#4b5797" stroke-width="1"/><line x1="521.5" y1="584" x2="521.5" y2="588" stroke="#4b5797" stroke-width="1"/><text transform="scale(0.880 1)" x="507.95 514.77 520.45 528.41 535.23" y="603.90" text-anchor="middle" class="ax">09:30</text><line x1="582.5" y1="584" x2="582.5" y2="591" stroke="#4b5797" stroke-width="1"/><line x1="644.5" y1="584" x2="644.5" y2="588" stroke="#4b5797" stroke-width="1"/><text transform="scale(0.880 1)" x="647.50 654.32 660.00 667.95 674.77" y="603.90" text-anchor="middle" class="ax">12:27</text><line x1="705.5" y1="584" x2="705.5" y2="591" stroke="#4b5797" stroke-width="1"/><line x1="766.5" y1="584" x2="766.5" y2="588" stroke="#4b5797" stroke-width="1"/><text transform="scale(0.880 1)" x="787.05 793.86 799.55 807.50 814.32" y="603.90" text-anchor="middle" class="ax">15:25</text><line x1="828.5" y1="584" x2="828.5" y2="591" stroke="#4b5797" stroke-width="1"/><line x1="889.5" y1="584" x2="889.5" y2="588" stroke="#4b5797" stroke-width="1"/><text transform="scale(0.880 1)" x="926.59 933.41 939.09 947.05 953.86" y="603.90" text-anchor="middle" class="ax">18:22</text><line x1="951.5" y1="584" x2="951.5" y2="591" stroke="#4b5797" stroke-width="1"/><line x1="1012.5" y1="584" x2="1012.5" y2="588" stroke="#4b5797" stroke-width="1"/><text transform="scale(0.880 1)" x="1066.14 1072.95 1078.64 1086.59 1093.41" y="603.90" text-anchor="middle" class="ax">21:20</text><line x1="1073.5" y1="584" x2="1073.5" y2="591" stroke="#4b5797" stroke-width="1"/><line x1="1135.5" y1="584" x2="1135.5" y2="588" stroke="#4b5797" stroke-width="1"/><text transform="scale(0.880 1)" x="1205.68 1212.50 1218.18 1226.14 1232.95" y="603.90" text-anchor="middle" class="ax">24:18</text><line x1="1196.5" y1="584" x2="1196.5" y2="591" stroke="#4b5797" stroke-width="1"/><line x1="1258.5" y1="584" x2="1258.5" y2="588" stroke="#4b5797" stroke-width="1"/><text transform="scale(0.880 1)" x="1345.23 1352.05 1357.73 1365.68 1372.50" y="603.90" text-anchor="middle" class="ax">27:15</text><line x1="1319.5" y1="584" x2="1319.5" y2="591" stroke="#4b5797" stroke-width="1"/><text transform="scale(0.880 1)" x="1484.77 1491.59 1497.27 1505.23 1512.05" y="603.90" text-anchor="middle" class="ax">30:13</text><rect x="90" y="363" width="2" height="221" fill="#2323c8"/><rect x="1318.2" y="363" width="1.7" height="221" fill="#3434dc"/>
<path d="M92.0 406.2H93.9 V450.6H94.8 V406.2H95.8 V442.6H96.7 V406.2H97.7 V450.6H98.6 V446.6H99.6 V442.6H100.5 V406.2H102.4 V426.7H103.3 V406.2H104.3 V510.3H106.2 V406.2H107.1 V418.7H108.0 V406.2H109.0 V418.7H110.9 V422.7H111.8 V406.2H112.8 V518.3H113.7 V486.4H115.6 V406.2H116.5 V486.4H117.5 V406.2H118.4 V450.6H119.4 V434.7H121.3 V450.6H123.1 V406.2H129.8 V418.7H130.7 V406.2H134.5 V510.3H135.4 V494.4H137.3 V526.3H138.2 V406.2H140.1 V518.3H141.1 V406.2H142.0 V426.7H143.9 V406.2H145.8 V494.4H147.7 V406.2H148.6 V446.6H150.5 V406.2H151.5 V470.5H152.4 V454.6H153.3 V406.2H156.2 V486.4H157.1 V406.2H161.8 V462.5H163.7 V406.2H166.6 V510.3H167.5 V406.2H168.4 V462.5H170.3 V406.2H171.3 V450.6H172.2 V434.7H175.1 V450.6H176.0 V406.2H179.8 V422.7H180.7 V406.2H183.5 V518.3H184.5 V527.0H186.4 V406.2H188.3 V434.7H190.2 V450.6H192.0 V406.2H193.0 V527.0H193.9 V511.0H195.8 V406.2H197.7 V438.7H198.6 V406.2H199.6 V486.4H200.5 V406.2H203.4 V450.6H205.3 V406.2H206.2 V434.7H207.1 V406.2H209.0 V494.4H210.0 V406.2H210.9 V454.6H211.9 V422.7H214.7 V406.2H219.4 V426.7H220.4 V406.2H223.2 V510.3H224.1 V406.2H227.0 V422.7H227.9 V406.2H228.9 V470.5H229.8 V406.2H230.7 V510.3H231.7 V478.5H232.6 V406.2H233.6 V527.0H235.5 V406.2H236.4 V494.4H237.3 V406.2H241.1 V430.7H242.1 V462.5H244.0 V494.4H244.9 V510.3H246.8 V406.2H247.7 V450.6H249.6 V434.7H250.6 V450.6H252.4 V406.2H253.4 V502.4H254.3 V406.2H258.1 V527.0H260.0 V406.2H264.7 V462.5H266.6 V478.5H267.5 V510.3H268.5 V406.2H270.4 V502.4H272.3 V406.2H273.2 V518.3H277.0 V527.0H277.9 V406.2H278.9 V494.4H279.8 V510.3H281.7 V406.2H282.6 V442.6H283.6 V406.2H284.5 V527.0H290.2 V495.1H291.1 V479.2H292.1 V463.3H293.0 V479.2H295.9 V406.2H296.8 V486.4H297.7 V406.2H298.7 V527.0H299.6 V406.2H300.6 V478.5H303.4 V406.2H305.3 V518.3H306.2 V406.2H308.1 V442.6H309.1 V406.2H310.0 V510.3H311.0 V406.2H311.9 V494.4H312.8 V406.2H313.8 V527.0H314.7 V406.2H316.6 V454.6H317.6 V406.2H318.5 V470.5H319.5 V406.2H321.3 V527.0H322.3 V406.2H323.2 V442.6H324.2 V406.2H326.1 V446.6H327.0 V406.2H328.0 V450.6H328.9 V422.7H329.8 V438.7H331.7 V422.7H332.7 V406.2H333.6 V486.4H334.6 V518.3H335.5 V406.2H337.4 V478.5H338.3 V406.2H339.3 V518.3H340.2 V527.0H341.2 V406.2H342.1 V478.5H343.1 V406.2H344.0 V510.3H344.9 V406.2H350.6 V470.5H351.5 V406.2H355.3 V478.5H356.3 V446.6H357.2 V430.7H358.2 V462.5H359.1 V446.6H360.0 V406.2H361.0 V430.7H362.9 V446.6H364.8 V406.2H365.7 V494.4H367.6 V406.2H369.5 V478.5H370.4 V494.4H371.4 V510.3H372.3 V494.4H374.2 V406.2H376.1 V450.6H377.0 V406.2H378.0 V418.7H378.9 V406.2H380.8 V478.5H381.7 V406.2H383.6 V494.4H384.6 V406.2H385.5 V527.0H387.4 V406.2H389.3 V426.7H390.2 V406.2H391.2 V454.6H392.1 V406.2H393.1 V486.4H394.0 V406.2H395.0 V494.4H395.9 V510.3H396.8 V406.2H397.8 V438.7H398.7 V406.2H399.7 V518.3H400.6 V486.4H401.6 V406.2H402.5 V470.5H403.5 V486.4H404.4 V454.6H407.2 V406.2H408.2 V426.7H409.1 V442.6H410.1 V406.2H411.0 V486.4H411.9 V406.2H413.8 V494.4H414.8 V526.3H415.7 V494.4H416.7 V406.2H417.6 V434.7H418.6 V406.2H422.3 V450.6H423.3 V466.5H424.2 V406.2H425.2 V510.3H426.1 V406.2H428.0 V494.4H428.9 V406.2H429.9 V502.4H430.8 V406.2H431.8 V426.7H432.7 V406.2H433.7 V442.6H434.6 V422.7H435.5 V406.2H440.3 V502.4H443.1 V486.4H444.0 V518.3H446.9 V406.2H447.8 V502.4H448.8 V406.2H451.6 V518.3H452.5 V406.2H453.5 V450.6H454.4 V406.2H455.4 V450.6H456.3 V406.2H457.3 V494.4H458.2 V406.2H461.0 V446.6H462.0 V406.2H462.9 V418.7H463.9 V422.7H464.8 V406.2H465.7 V527.0H467.6 V406.2H468.6 V502.4H470.5 V406.2H471.4 V478.5H473.3 V406.2H474.2 V426.7H475.2 V406.2H476.1 V450.6H477.1 V406.2H479.0 V486.4H479.9 V406.2H480.8 V510.3H481.8 V494.4H482.7 V406.2H484.6 V518.3H485.6 V406.2H486.5 V446.6H487.5 V406.2H488.4 V494.4H491.2 V406.2H492.2 V470.5H493.1 V454.6H494.1 V406.2H495.0 V510.3H495.9 V406.2H496.9 V494.4H497.8 V478.5H498.8 V510.3H499.7 V527.0H500.7 V406.2H502.6 V478.5H503.5 V462.5H504.4 V406.2H507.3 V478.5H508.2 V406.2H510.1 V430.7H511.0 V406.2H512.0 V446.6H513.9 V478.5H514.8 V406.2H518.6 V422.7H519.5 V406.2H520.5 V518.3H522.4 V406.2H523.3 V486.4H524.3 V502.4H525.2 V406.2H526.1 V486.4H527.1 V406.2H529.9 V510.3H530.9 V526.3H531.8 V510.3H532.8 V478.5H535.6 V406.2H540.3 V510.3H541.3 V494.4H543.1 V478.5H544.1 V462.5H545.0 V406.2H546.9 V510.3H547.9 V406.2H551.6 V422.7H555.4 V406.2H557.3 V494.4H558.2 V510.3H560.1 V406.2H564.8 V430.7H566.7 V406.2H567.7 V450.6H568.6 V482.5H569.6 V406.2H570.5 V527.0H571.5 V406.2H572.4 V527.0H573.3 V406.2H574.3 V478.5H575.2 V446.6H576.2 V406.2H577.1 V418.7H579.0 V406.2H581.8 V486.4H582.8 V406.2H584.7 V494.4H587.5 V462.5H588.4 V406.2H589.4 V454.6H590.3 V406.2H593.2 V527.0H594.1 V406.2H596.9 V527.0H597.9 V511.0H599.8 V527.0H600.7 V495.1H602.6 V527.0H604.5 V406.2H605.4 V510.3H606.4 V406.2H608.3 V478.5H609.2 V462.5H610.1 V478.5H611.1 V406.2H612.0 V527.0H613.9 V406.2H615.8 V518.3H616.8 V406.2H617.7 V426.7H618.6 V422.7H620.5 V406.2H623.4 V434.7H626.2 V406.2H627.1 V510.3H628.1 V526.3H629.0 V494.4H630.0 V406.2H630.9 V510.3H631.9 V406.2H632.8 V462.5H633.7 V406.2H634.7 V478.5H636.6 V406.2H637.5 V478.5H638.5 V494.4H639.4 V406.2H640.3 V527.0H641.3 V406.2H642.2 V494.4H644.1 V526.3H645.1 V406.2H647.0 V486.4H648.8 V406.2H651.7 V422.7H652.6 V406.2H657.3 V430.7H659.2 V406.2H660.2 V470.5H662.1 V406.2H663.0 V527.0H663.9 V406.2H664.9 V422.7H666.8 V406.2H669.6 V486.4H670.6 V406.2H673.4 V446.6H674.3 V422.7H675.3 V406.2H676.2 V518.3H677.2 V406.2H678.1 V502.4H679.0 V406.2H681.9 V527.0H683.8 V406.2H684.7 V438.7H685.7 V406.2H690.4 V527.0H691.3 V406.2H692.3 V454.6H693.2 V406.2H694.1 V494.4H696.0 V406.2H697.9 V502.4H698.9 V406.2H699.8 V518.3H700.8 V406.2H705.5 V470.5H707.4 V438.7H709.2 V406.2H710.2 V470.5H712.1 V406.2H713.0 V527.0H714.0 V406.2H718.7 V450.6H720.6 V406.2H724.3 V486.4H725.3 V406.2H727.2 V426.7H729.1 V422.7H731.9 V454.6H732.8 V406.2H734.7 V426.7H735.7 V406.2H737.6 V454.6H738.5 V406.2H739.4 V486.4H740.4 V406.2H742.3 V422.7H743.2 V406.2H744.2 V446.6H745.1 V406.2H747.0 V486.4H748.9 V470.5H749.8 V406.2H751.7 V518.3H752.7 V527.0H753.6 V406.2H756.4 V478.5H757.4 V406.2H758.3 V470.5H759.3 V406.2H762.1 V518.3H764.9 V527.0H765.9 V406.2H767.8 V446.6H768.7 V406.2H769.7 V502.4H772.5 V527.0H773.4 V406.2H774.4 V527.0H775.3 V495.1H776.3 V406.2H777.2 V502.4H778.1 V406.2H781.0 V518.3H781.9 V502.4H782.9 V470.5H784.8 V406.2H786.6 V454.6H787.6 V406.2H788.5 V518.3H789.5 V406.2H790.4 V527.0H791.4 V511.0H793.2 V527.0H794.2 V406.2H797.0 V446.6H798.0 V406.2H801.7 V527.0H802.7 V406.2H804.6 V422.7H805.5 V406.2H806.5 V510.3H808.3 V406.2H809.3 V502.4H810.2 V406.2H811.2 V486.4H812.1 V406.2H813.1 V518.3H814.0 V406.2H815.0 V510.3H815.9 V406.2H817.8 V430.7H819.7 V406.2H821.6 V486.4H822.5 V406.2H823.4 V518.3H824.4 V406.2H825.3 V527.0H828.2 V406.2H829.1 V494.4H830.1 V510.3H831.0 V406.2H831.9 V527.0H832.9 V406.2H833.8 V478.5H834.8 V406.2H835.7 V527.0H836.7 V406.2H839.5 V442.6H840.4 V406.2H848.9 V527.0H850.8 V406.2H853.6 V502.4H854.6 V406.2H856.5 V454.6H857.4 V406.2H858.4 V418.7H859.3 V406.2H861.2 V518.3H863.1 V406.2H864.0 V510.3H865.0 V406.2H865.9 V486.4H866.9 V406.2H867.8 V478.5H868.7 V406.2H869.7 V510.3H870.6 V406.2H871.6 V494.4H872.5 V406.2H873.5 V450.6H874.4 V406.2H875.4 V462.5H876.3 V406.2H877.2 V502.4H878.2 V470.5H879.1 V406.2H880.1 V426.7H881.0 V422.7H882.0 V406.2H882.9 V527.0H885.7 V406.2H886.7 V502.4H887.6 V406.2H889.5 V446.6H890.5 V406.2H891.4 V518.3H892.3 V406.2H896.1 V418.7H897.1 V406.2H899.0 V518.3H899.9 V406.2H900.8 V426.7H901.8 V406.2H905.6 V422.7H907.4 V406.2H908.4 V494.4H909.3 V406.2H910.3 V450.6H912.2 V406.2H913.1 V518.3H914.1 V406.2H915.0 V478.5H916.9 V406.2H918.8 V502.4H919.7 V406.2H921.6 V494.4H922.5 V462.5H924.4 V406.2H925.4 V510.3H927.3 V406.2H929.2 V527.0H930.1 V406.2H931.0 V527.0H932.0 V406.2H932.9 V446.6H933.9 V430.7H934.8 V406.2H937.6 V510.3H938.6 V406.2H939.5 V442.6H941.4 V406.2H942.4 V518.3H943.3 V527.0H945.2 V406.2H946.1 V438.7H947.1 V406.2H948.0 V430.7H949.0 V406.2H950.9 V502.4H951.8 V518.3H952.7 V406.2H953.7 V494.4H954.6 V406.2H957.5 V510.3H958.4 V406.2H959.4 V450.6H960.3 V406.2H962.2 V527.0H964.1 V495.1H965.0 V406.2H966.0 V486.4H966.9 V502.4H967.8 V406.2H969.7 V450.6H970.7 V406.2H971.6 V430.7H973.5 V406.2H975.4 V470.5H976.3 V486.4H978.2 V406.2H979.2 V462.5H982.0 V478.5H982.9 V510.3H983.9 V406.2H984.8 V478.5H985.8 V406.2H987.7 V454.6H988.6 V406.2H989.6 V502.4H990.5 V470.5H991.4 V406.2H992.4 V426.7H993.3 V406.2H998.1 V422.7H999.0 V406.2H999.9 V442.6H1000.9 V406.2H1001.8 V450.6H1002.8 V406.2H1006.5 V510.3H1007.5 V406.2H1009.4 V418.7H1010.3 V406.2H1011.3 V442.6H1013.2 V406.2H1014.1 V518.3H1015.0 V406.2H1016.0 V518.3H1018.8 V406.2H1019.8 V418.7H1020.7 V422.7H1021.6 V406.2H1022.6 V426.7H1024.5 V442.6H1025.4 V422.7H1026.4 V406.2H1027.3 V527.0H1028.3 V406.2H1032.0 V527.0H1033.0 V406.2H1034.9 V510.3H1035.8 V406.2H1038.6 V450.6H1039.6 V406.2H1042.4 V527.0H1043.4 V406.2H1045.2 V422.7H1046.2 V406.2H1056.6 V478.5H1058.5 V406.2H1060.3 V434.7H1062.2 V406.2H1063.2 V430.7H1064.1 V406.2H1066.0 V510.3H1066.9 V406.2H1068.8 V478.5H1069.8 V406.2H1073.6 V494.4H1074.5 V406.2H1077.3 V438.7H1078.3 V454.6H1079.2 V470.5H1080.2 V406.2H1082.0 V527.0H1083.0 V406.2H1085.8 V527.0H1089.6 V406.2H1091.5 V434.7H1092.4 V406.2H1093.4 V450.6H1094.3 V466.5H1095.3 V406.2H1096.2 V486.4H1097.2 V406.2H1098.1 V510.3H1099.0 V406.2H1100.0 V478.5H1100.9 V494.4H1101.9 V406.2H1103.8 V486.4H1104.7 V406.2H1105.6 V510.3H1106.6 V494.4H1107.5 V406.2H1108.5 V518.3H1109.4 V527.0H1110.4 V406.2H1115.1 V446.6H1116.0 V406.2H1117.0 V478.5H1117.9 V406.2H1118.9 V438.7H1119.8 V406.2H1120.7 V494.4H1121.7 V462.5H1123.6 V406.2H1124.5 V438.7H1126.4 V406.2H1127.4 V478.5H1129.2 V406.2H1130.2 V486.4H1132.1 V406.2H1133.0 V510.3H1134.9 V406.2H1137.7 V502.4H1139.6 V518.3H1140.6 V527.0H1141.5 V406.2H1142.5 V502.4H1143.4 V406.2H1144.3 V510.3H1145.3 V406.2H1152.8 V462.5H1153.8 V446.6H1156.6 V422.7H1157.6 V406.2H1159.4 V510.3H1160.4 V406.2H1161.3 V418.7H1162.3 V422.7H1164.2 V438.7H1165.1 V406.2H1166.0 V442.6H1167.0 V406.2H1167.9 V502.4H1168.9 V527.0H1169.8 V406.2H1170.8 V502.4H1171.7 V527.0H1172.7 V406.2H1174.5 V470.5H1175.5 V438.7H1176.4 V406.2H1177.4 V422.7H1178.3 V406.2H1179.3 V527.0H1180.2 V406.2H1182.1 V510.3H1183.0 V406.2H1184.9 V430.7H1185.9 V462.5H1186.8 V494.4H1187.8 V478.5H1188.7 V446.6H1189.6 V406.2H1190.6 V502.4H1192.5 V406.2H1193.4 V494.4H1194.4 V406.2H1195.3 V418.7H1196.2 V406.2H1197.2 V430.7H1198.1 V406.2H1202.9 V426.7H1203.8 V442.6H1205.7 V406.2H1207.6 V510.3H1208.5 V406.2H1209.5 V446.6H1210.4 V422.7H1212.3 V406.2H1215.1 V450.6H1216.1 V406.2H1219.8 V430.7H1220.8 V406.2H1221.7 V494.4H1222.7 V526.3H1223.6 V406.2H1229.3 V434.7H1230.2 V406.2H1231.2 V454.6H1233.1 V406.2H1234.0 V510.3H1234.9 V406.2H1236.8 V510.3H1238.7 V527.0H1239.7 V406.2H1241.6 V438.7H1242.5 V406.2H1255.7 V527.0H1259.5 V495.1H1260.4 V406.2H1261.4 V494.4H1264.2 V406.2H1266.1 V494.4H1267.0 V406.2H1269.9 V486.4H1270.8 V454.6H1271.8 V406.2H1272.7 V418.7H1274.6 V406.2H1275.5 V454.6H1276.5 V406.2H1277.4 V450.6H1279.3 V406.2H1281.2 V527.0H1282.1 V406.2H1283.1 V527.0H1285.0 V406.2H1285.9 V518.3H1287.8 V406.2H1288.7 V486.4H1289.7 V406.2H1291.6 V486.4H1292.5 V406.2H1293.5 V527.0H1295.3 V495.1H1298.2 V406.2H1299.1 V527.0H1300.1 V406.2H1301.0 V527.0H1302.0 V406.2H1302.9 V430.7H1303.8 V422.7H1306.7 V454.6H1308.6 V406.2H1309.5 V502.4H1311.4 V406.2H1312.3 V486.4H1314.2 V454.6H1316.1 V422.7H1317.1 V406.2H1318.0" fill="none" stroke="#b8860b" stroke-width="1.5"/>
<path d="M92.0 527.0H103.3 V494.4H105.2 V527.0H106.2 V494.4H107.1 V527.0H108.0 V470.4H109.0 V527.0H110.9 V438.3H111.8 V527.0H113.7 V438.3H114.7 V490.4H115.6 V494.4H116.5 V490.4H117.5 V502.4H118.4 V438.3H119.4 V490.4H120.3 V527.0H121.3 V490.4H122.2 V494.4H123.1 V470.4H124.1 V527.0H125.0 V494.4H126.0 V487.2H126.9 V502.4H128.8 V490.4H129.8 V527.0H130.7 V494.4H132.6 V527.0H133.5 V490.4H134.5 V438.3H135.4 V527.0H137.3 V502.4H138.2 V527.0H141.1 V438.3H142.0 V510.3H143.0 V527.0H143.9 V487.2H144.9 V494.4H145.8 V502.4H146.7 V494.4H148.6 V490.4H149.6 V494.4H150.5 V490.4H151.5 V527.0H152.4 V510.3H155.2 V494.4H156.2 V487.2H157.1 V494.4H158.1 V490.4H159.0 V527.0H160.0 V494.4H160.9 V527.0H162.8 V494.4H163.7 V438.3H164.7 V527.0H165.6 V490.4H166.6 V527.0H167.5 V438.3H168.4 V494.4H169.4 V527.0H170.3 V502.4H171.3 V494.4H172.2 V527.0H176.0 V494.4H176.9 V438.3H177.9 V527.0H178.8 V502.4H179.8 V527.0H180.7 V438.3H181.7 V514.3H182.6 V527.0H183.5 V494.4H184.5 V490.4H185.4 V494.4H186.4 V527.0H189.2 V438.3H190.2 V527.0H191.1 V502.4H192.0 V527.0H193.0 V502.4H193.9 V487.2H194.9 V490.4H195.8 V527.0H196.8 V438.3H197.7 V527.0H201.5 V502.4H202.4 V527.0H203.4 V490.4H205.3 V502.4H206.2 V494.4H207.1 V527.0H208.1 V438.3H209.0 V502.4H210.0 V527.0H210.9 V494.4H211.9 V527.0H212.8 V438.3H213.8 V494.4H216.6 V527.0H219.4 V494.4H220.4 V527.0H223.2 V502.4H224.1 V494.4H225.1 V438.3H226.0 V502.4H227.9 V527.0H228.9 V494.4H229.8 V527.0H235.5 V438.3H236.4 V494.4H237.3 V527.0H238.3 V502.4H239.2 V527.0H240.2 V502.4H241.1 V527.0H248.7 V494.4H249.6 V527.0H253.4 V494.4H254.3 V527.0H255.3 V438.3H256.2 V527.0H257.2 V494.4H258.1 V527.0H259.1 V470.4H260.0 V502.4H260.9 V527.0H267.5 V494.4H268.5 V527.0H270.4 V438.3H271.3 V494.4H272.3 V527.0H274.2 V438.3H275.1 V527.0H279.8 V438.3H280.8 V527.0H281.7 V502.4H282.6 V527.0H283.6 V494.4H284.5 V502.4H285.5 V494.4H286.4 V438.3H287.4 V527.0H288.3 V502.4H289.3 V494.4H291.1 V438.3H292.1 V527.0H293.0 V510.3H294.0 V438.3H294.9 V494.4H295.9 V527.0H296.8 V438.3H297.7 V527.0H300.6 V514.3H301.5 V527.0H303.4 V487.2H304.4 V527.0H305.3 V490.4H306.2 V527.0H307.2 V438.3H308.1 V502.4H309.1 V490.4H310.0 V527.0H314.7 V494.4H315.7 V502.4H316.6 V527.0H319.5 V502.4H320.4 V527.0H321.3 V438.3H322.3 V527.0H325.1 V494.4H326.1 V438.3H327.0 V490.4H328.0 V527.0H332.7 V438.3H333.6 V494.4H335.5 V527.0H336.4 V502.4H337.4 V527.0H339.3 V494.4H340.2 V490.4H341.2 V527.0H344.0 V438.3H344.9 V527.0H346.8 V494.4H348.7 V527.0H350.6 V470.4H351.5 V514.3H352.5 V527.0H357.2 V494.4H358.2 V527.0H360.0 V510.3H361.0 V527.0H364.8 V494.4H365.7 V527.0H366.6 V494.4H367.6 V502.4H369.5 V527.0H370.4 V487.2H371.4 V527.0H374.2 V438.3H375.1 V527.0H376.1 V518.3H377.0 V527.0H380.8 V438.3H381.7 V494.4H384.6 V527.0H385.5 V494.4H386.5 V527.0H388.4 V518.3H389.3 V527.0H390.2 V494.4H391.2 V527.0H392.1 V494.4H393.1 V527.0H395.0 V502.4H395.9 V527.0H397.8 V438.3H398.7 V494.4H399.7 V527.0H401.6 V494.4H402.5 V527.0H405.3 V494.4H406.3 V502.4H407.2 V494.4H408.2 V438.3H409.1 V494.4H410.1 V527.0H411.9 V490.4H413.8 V487.2H414.8 V527.0H416.7 V494.4H417.6 V527.0H418.6 V470.4H419.5 V527.0H420.4 V502.4H421.4 V527.0H422.3 V487.2H423.3 V527.0H425.2 V502.4H426.1 V438.3H427.1 V527.0H428.9 V438.3H429.9 V494.4H431.8 V514.3H432.7 V527.0H434.6 V494.4H435.5 V527.0H436.5 V470.4H437.4 V527.0H439.3 V470.4H440.3 V527.0H442.2 V438.3H443.1 V490.4H444.0 V527.0H445.9 V494.4H447.8 V527.0H448.8 V438.3H449.7 V527.0H450.6 V510.3H451.6 V527.0H452.5 V487.2H453.5 V494.4H454.4 V527.0H455.4 V494.4H456.3 V527.0H459.1 V438.3H460.1 V502.4H461.0 V494.4H462.0 V527.0H462.9 V502.4H463.9 V527.0H464.8 V494.4H465.7 V487.2H466.7 V502.4H467.6 V527.0H468.6 V438.3H469.5 V494.4H470.5 V527.0H472.4 V438.3H473.3 V494.4H475.2 V470.4H476.1 V494.4H478.0 V514.3H479.0 V487.2H479.9 V494.4H480.8 V490.4H481.8 V527.0H484.6 V470.4H485.6 V502.4H486.5 V527.0H487.5 V438.3H488.4 V490.4H489.3 V494.4H490.3 V487.2H491.2 V510.3H492.2 V494.4H495.0 V502.4H495.9 V527.0H496.9 V494.4H497.8 V438.3H498.8 V527.0H499.7 V518.3H500.7 V494.4H501.6 V438.3H502.6 V494.4H504.4 V527.0H507.3 V502.4H508.2 V494.4H509.2 V527.0H510.1 V438.3H511.0 V502.4H512.0 V527.0H514.8 V494.4H515.8 V502.4H516.7 V527.0H517.7 V487.2H518.6 V494.4H520.5 V527.0H521.4 V438.3H522.4 V494.4H523.3 V527.0H524.3 V502.4H525.2 V494.4H528.0 V527.0H529.9 V490.4H530.9 V527.0H531.8 V438.3H532.8 V527.0H533.7 V494.4H534.6 V527.0H536.5 V494.4H537.5 V490.4H538.4 V494.4H540.3 V527.0H541.3 V494.4H542.2 V487.2H543.1 V490.4H545.0 V470.4H546.0 V527.0H547.9 V494.4H548.8 V527.0H549.7 V494.4H550.7 V527.0H551.6 V438.3H552.6 V490.4H553.5 V494.4H554.5 V490.4H555.4 V470.4H556.4 V527.0H558.2 V438.3H559.2 V527.0H561.1 V438.3H562.0 V490.4H563.0 V527.0H564.8 V494.4H565.8 V470.4H566.7 V527.0H567.7 V494.4H568.6 V527.0H569.6 V494.4H570.5 V502.4H571.5 V494.4H572.4 V438.3H573.3 V527.0H575.2 V438.3H576.2 V527.0H577.1 V502.4H578.1 V438.3H579.0 V502.4H579.9 V490.4H580.9 V514.3H581.8 V494.4H584.7 V527.0H586.6 V494.4H587.5 V527.0H588.4 V494.4H591.3 V527.0H592.2 V487.2H593.2 V510.3H594.1 V527.0H596.9 V470.4H597.9 V502.4H599.8 V438.3H600.7 V494.4H602.6 V490.4H603.5 V527.0H605.4 V494.4H607.3 V527.0H608.3 V490.4H609.2 V527.0H610.1 V502.4H611.1 V487.2H612.0 V527.0H613.0 V502.4H613.9 V494.4H614.9 V490.4H615.8 V470.4H616.8 V527.0H617.7 V490.4H619.6 V527.0H622.4 V510.3H623.4 V527.0H624.3 V438.3H625.2 V527.0H626.2 V490.4H627.1 V470.4H628.1 V502.4H629.0 V527.0H630.0 V494.4H630.9 V502.4H632.8 V527.0H633.7 V438.3H634.7 V527.0H636.6 V438.3H637.5 V494.4H639.4 V470.4H640.3 V527.0H642.2 V494.4H644.1 V527.0H646.0 V438.3H647.0 V502.4H647.9 V494.4H648.8 V470.4H649.8 V494.4H650.7 V527.0H651.7 V502.4H652.6 V487.2H653.6 V502.4H654.5 V527.0H655.5 V494.4H658.3 V527.0H661.1 V438.3H662.1 V527.0H664.9 V438.3H665.8 V527.0H666.8 V490.4H667.7 V527.0H668.7 V494.4H670.6 V527.0H671.5 V438.3H672.4 V527.0H674.3 V470.4H675.3 V490.4H676.2 V494.4H677.2 V527.0H678.1 V502.4H679.0 V494.4H680.0 V487.2H680.9 V527.0H681.9 V510.3H682.8 V527.0H683.8 V502.4H685.7 V494.4H687.5 V527.0H689.4 V494.4H690.4 V527.0H691.3 V487.2H692.3 V502.4H693.2 V527.0H694.1 V438.3H695.1 V494.4H697.0 V490.4H697.9 V502.4H698.9 V527.0H699.8 V438.3H700.8 V490.4H701.7 V527.0H704.5 V438.3H705.5 V494.4H707.4 V487.2H708.3 V490.4H709.2 V494.4H710.2 V502.4H711.1 V490.4H712.1 V438.3H713.0 V494.4H714.0 V490.4H714.9 V438.3H715.9 V527.0H716.8 V490.4H717.7 V438.3H718.7 V527.0H720.6 V438.3H721.5 V527.0H722.5 V518.3H723.4 V527.0H724.3 V518.3H725.3 V494.4H727.2 V438.3H728.1 V527.0H730.0 V490.4H731.0 V502.4H731.9 V527.0H733.8 V438.3H734.7 V527.0H735.7 V502.4H736.6 V527.0H737.6 V438.3H738.5 V494.4H739.4 V527.0H741.3 V487.2H742.3 V527.0H744.2 V487.2H745.1 V494.4H746.1 V518.3H747.0 V527.0H747.9 V438.3H748.9 V494.4H749.8 V527.0H750.8 V438.3H751.7 V494.4H753.6 V438.3H754.5 V527.0H755.5 V518.3H756.4 V502.4H757.4 V438.3H758.3 V502.4H761.2 V518.3H762.1 V514.3H763.0 V518.3H764.0 V527.0H764.9 V514.3H765.9 V527.0H769.7 V494.4H770.6 V527.0H772.5 V510.3H773.4 V527.0H774.4 V502.4H775.3 V527.0H777.2 V438.3H778.1 V502.4H779.1 V527.0H780.0 V502.4H781.0 V518.3H781.9 V494.4H784.8 V514.3H785.7 V502.4H786.6 V494.4H787.6 V527.0H788.5 V438.3H789.5 V494.4H790.4 V527.0H791.4 V494.4H793.2 V527.0H794.2 V494.4H795.1 V487.2H796.1 V527.0H798.0 V494.4H798.9 V487.2H799.9 V502.4H800.8 V527.0H806.5 V438.3H807.4 V527.0H810.2 V438.3H811.2 V527.0H812.1 V510.3H813.1 V438.3H814.0 V527.0H815.0 V518.3H815.9 V514.3H816.8 V527.0H821.6 V510.3H822.5 V527.0H823.4 V518.3H824.4 V527.0H829.1 V502.4H830.1 V527.0H831.0 V438.3H831.9 V527.0H833.8 V502.4H834.8 V527.0H838.5 V470.4H839.5 V527.0H841.4 V438.3H842.3 V490.4H843.3 V527.0H848.0 V510.3H848.9 V527.0H850.8 V487.2H851.8 V527.0H856.5 V502.4H857.4 V438.3H858.4 V510.3H859.3 V527.0H865.0 V502.4H865.9 V527.0H866.9 V502.4H867.8 V527.0H873.5 V438.3H874.4 V527.0H879.1 V494.4H880.1 V527.0H881.0 V470.4H882.0 V527.0H882.9 V494.4H883.9 V487.2H884.8 V494.4H885.7 V490.4H886.7 V502.4H888.6 V470.4H889.5 V502.4H890.5 V527.0H891.4 V438.3H892.3 V494.4H894.2 V470.4H895.2 V518.3H896.1 V494.4H897.1 V438.3H898.0 V527.0H899.9 V502.4H900.8 V527.0H904.6 V487.2H905.6 V527.0H908.4 V438.3H909.3 V527.0H916.9 V510.3H917.8 V470.4H918.8 V502.4H919.7 V527.0H920.7 V494.4H921.6 V438.3H922.5 V527.0H923.5 V514.3H925.4 V527.0H927.3 V470.4H928.2 V527.0H929.2 V502.4H930.1 V438.3H931.0 V527.0H932.9 V494.4H933.9 V438.3H934.8 V510.3H935.8 V527.0H938.6 V510.3H939.5 V527.0H940.5 V438.3H941.4 V527.0H945.2 V487.2H946.1 V527.0H948.0 V470.4H949.0 V527.0H952.7 V438.3H953.7 V527.0H955.6 V518.3H956.5 V438.3H957.5 V527.0H959.4 V438.3H960.3 V527.0H963.1 V487.2H964.1 V527.0H969.7 V438.3H970.7 V527.0H973.5 V494.4H974.5 V527.0H976.3 V494.4H977.3 V527.0H979.2 V502.4H980.1 V527.0H982.9 V438.3H983.9 V527.0H990.5 V438.3H991.4 V527.0H998.1 V518.3H999.0 V438.3H999.9 V527.0H1005.6 V518.3H1006.5 V494.4H1007.5 V527.0H1008.4 V514.3H1009.4 V527.0H1013.2 V487.2H1014.1 V527.0H1016.9 V502.4H1017.9 V438.3H1018.8 V527.0H1020.7 V510.3H1021.6 V527.0H1022.6 V438.3H1023.5 V490.4H1024.5 V518.3H1025.4 V527.0H1026.4 V438.3H1027.3 V527.0H1028.3 V494.4H1029.2 V470.4H1030.1 V527.0H1035.8 V487.2H1036.7 V527.0H1037.7 V518.3H1038.6 V527.0H1043.4 V490.4H1045.2 V438.3H1046.2 V490.4H1047.1 V518.3H1048.1 V527.0H1049.0 V502.4H1050.0 V438.3H1050.9 V527.0H1053.7 V438.3H1054.7 V527.0H1065.1 V470.4H1066.0 V527.0H1067.9 V494.4H1069.8 V527.0H1070.7 V518.3H1071.7 V527.0H1072.6 V438.3H1073.6 V527.0H1083.0 V470.4H1083.9 V527.0H1088.7 V438.3H1089.6 V527.0H1091.5 V502.4H1092.4 V490.4H1093.4 V527.0H1098.1 V487.2H1099.0 V527.0H1100.0 V514.3H1100.9 V527.0H1101.9 V514.3H1102.8 V494.4H1103.8 V527.0H1105.6 V487.2H1106.6 V527.0H1108.5 V438.3H1109.4 V527.0H1113.2 V510.3H1114.1 V527.0H1116.0 V487.2H1117.0 V527.0H1117.9 V502.4H1118.9 V438.3H1119.8 V527.0H1122.6 V438.3H1123.6 V527.0H1126.4 V438.3H1127.4 V527.0H1132.1 V487.2H1133.0 V527.0H1135.8 V502.4H1136.8 V527.0H1151.9 V518.3H1153.8 V527.0H1154.7 V502.4H1156.6 V527.0H1157.6 V494.4H1158.5 V527.0H1159.4 V438.3H1160.4 V527.0H1161.3 V502.4H1162.3 V494.4H1164.2 V487.2H1165.1 V494.4H1167.9 V527.0H1168.9 V490.4H1169.8 V527.0H1171.7 V502.4H1172.7 V494.4H1174.5 V438.3H1175.5 V502.4H1177.4 V527.0H1178.3 V438.3H1179.3 V518.3H1180.2 V494.4H1181.1 V527.0H1182.1 V502.4H1183.0 V438.3H1184.0 V494.4H1184.9 V527.0H1187.8 V438.3H1188.7 V527.0H1190.6 V438.3H1191.5 V514.3H1192.5 V527.0H1197.2 V438.3H1198.1 V527.0H1201.9 V438.3H1202.9 V527.0H1205.7 V494.4H1206.6 V438.3H1207.6 V527.0H1210.4 V438.3H1211.4 V527.0H1214.2 V438.3H1215.1 V527.0H1219.8 V494.4H1220.8 V527.0H1224.6 V438.3H1225.5 V510.3H1227.4 V527.0H1228.3 V438.3H1229.3 V527.0H1232.1 V518.3H1233.1 V514.3H1234.0 V527.0H1234.9 V502.4H1235.9 V527.0H1236.8 V502.4H1237.8 V527.0H1243.4 V510.3H1244.4 V527.0H1245.3 V438.3H1246.3 V527.0H1257.6 V470.4H1258.5 V490.4H1259.5 V527.0H1260.4 V502.4H1261.4 V487.2H1262.3 V490.4H1263.3 V527.0H1268.9 V438.3H1269.9 V494.4H1270.8 V527.0H1271.8 V438.3H1272.7 V527.0H1273.6 V514.3H1274.6 V438.3H1275.5 V527.0H1276.5 V494.4H1277.4 V438.3H1278.4 V527.0H1279.3 V514.3H1280.2 V527.0H1281.2 V494.4H1283.1 V527.0H1284.0 V490.4H1285.9 V527.0H1286.9 V438.3H1287.8 V494.4H1288.7 V527.0H1289.7 V518.3H1290.6 V527.0H1296.3 V470.4H1297.2 V527.0H1301.0 V514.3H1302.9 V527.0H1305.7 V494.4H1306.7 V527.0H1308.6 V490.4H1309.5 V527.0H1311.4 V494.4H1312.3 V438.3H1313.3 V494.4H1314.2 V527.0H1318.0" fill="none" stroke="#1cb51c" stroke-width="1.45"/>
<rect x="555.2" y="363" width="1.7" height="220" fill="#6e6e88"/>
<text x="97.00 103.00 109.00 115.00 121.00 127.00 133.00 139.00 145.00 151.00 157.00 163.00 169.00 175.00 181.00 187.00" y="455.60" text-anchor="middle" class="ov">Time:00:38-30:12</text>
<text x="97.00 103.00 109.00 115.00 121.00 127.00 133.00 139.00 145.00 151.00 157.00 163.00 169.00 175.00 181.00 187.00 193.00 199.00 205.00 211.00 217.00 223.00 229.00 235.00" y="467.30" text-anchor="middle" class="ov">Avg(CPUClock0):921.98MHz</text>
<text x="97.00 103.00 109.00 115.00 121.00 127.00 133.00 139.00 145.00 151.00 157.00 163.00 169.00 175.00 181.00 187.00 193.00 199.00 205.00 211.00 217.00 223.00 229.00 235.00 241.00" y="478.70" text-anchor="middle" class="ov">Avg(CPUClock6):1870.44MHz</text>
<text x="561.00 567.00 573.00 579.00 585.00 591.00 597.00 603.00 609.00 615.00" y="455.60" text-anchor="middle" class="ovg">Time:11:48</text>
<text x="561.00 567.00 573.00 579.00 585.00 591.00 597.00 603.00 609.00 615.00 621.00 627.00 633.00 639.00 645.00 651.00 657.00 663.00 669.00" y="467.30" text-anchor="middle" class="ovg">CPUClock0:691.00MHz</text>
<text x="561.00 567.00 573.00 579.00 585.00 591.00 597.00 603.00 609.00 615.00 621.00 627.00 633.00 639.00 645.00 651.00 657.00 663.00 669.00" y="478.70" text-anchor="middle" class="ovg">CPUClock6:691.00MHz</text>
<text transform="scale(0.900 1)" x="748.56 759.46 770.36 781.26 792.16 803.06 813.96 824.86 835.76" y="346.20" text-anchor="middle" class="ttl" font-size="17.5">CPU Clock</text>
<text transform="translate(44.2 473.4) rotate(-90)" x="0" y="0" text-anchor="middle" class="ttlb" font-size="14.5" textLength="22.8" lengthAdjust="spacingAndGlyphs">MHz</text>
<rect x="1343.5" y="383.5" width="8.5" height="8.5" rx="1.5" fill="#18c418"/>
<text x="1360" y="391" font-family="Liberation Serif,serif" font-size="12.5" fill="#3f4a94" stroke="#3f4a94" stroke-width="0.15" textLength="43" lengthAdjust="spacingAndGlyphs">cpu:0-5</text>
<rect x="1343.5" y="410" width="8.5" height="8.5" rx="1.5" fill="#c88c08"/>
<text x="1360" y="417.5" font-family="Liberation Serif,serif" font-size="12.5" fill="#3f4a94" stroke="#3f4a94" stroke-width="0.15" textLength="43" lengthAdjust="spacingAndGlyphs">cpu:6-7</text>
</svg></body></html>
